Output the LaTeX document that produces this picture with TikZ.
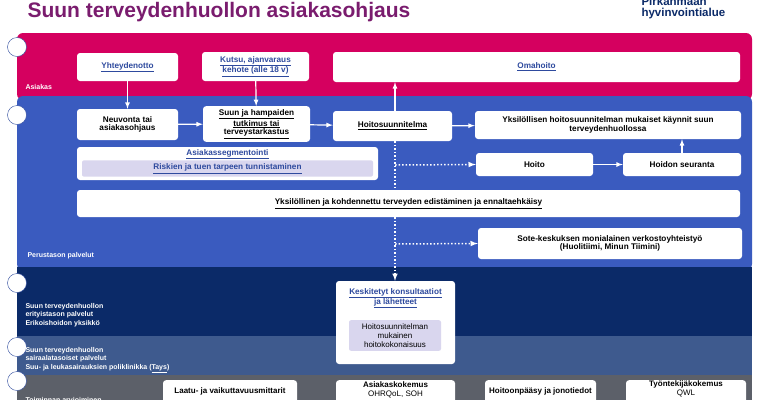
\documentclass[tikz,border=0pt]{standalone}
\usepackage{fontspec}
\setmainfont{Liberation Sans}
\usetikzlibrary{calc}
\definecolor{pinkband}{HTML}{D5005F}
\definecolor{blueband}{HTML}{3A5BBF}
\definecolor{navyband}{HTML}{0B2A68}
\definecolor{midband}{HTML}{3E5A8E}
\definecolor{greyband}{HTML}{5C6069}
\definecolor{linkblue}{HTML}{2E4A9E}
\definecolor{lavender}{HTML}{D9D6EE}
\definecolor{titlepurple}{HTML}{7A1C6E}
\begin{document}
\begin{tikzpicture}[x=1pt,y=-1pt,>=latex,
  box/.style={fill=white,rounded corners=3pt,align=center,font=\fontsize{8.2}{8.6}\selectfont\bfseries},
  lab/.style={anchor=west,align=left,text=white,font=\fontsize{7}{8.2}\selectfont\bfseries},
  icon/.style={circle,draw=linkblue,fill=white,minimum size=19pt,inner sep=0pt},
  arr/.style={->,white,line width=1.2pt},
  dots/.style={white,line width=1.5pt,dotted}]
  \useasboundingbox (0,0) rectangle (760,400);
  % bands
  \fill[pinkband,rounded corners=6pt] (17,33) rectangle (752,100);
  \fill[blueband,rounded corners=6pt] (17,96) rectangle (752,270);
  \fill[navyband] (17,267) rectangle (752,336);
  \fill[midband] (17,336) rectangle (752,375);
  \fill[greyband] (17,375) rectangle (752,400);
  % title
  \node[anchor=west,text=titlepurple,font=\fontsize{21}{22}\selectfont\bfseries] (title) at (24,12) {Suun terveydenhuollon asiakasohjaus};
  \node[anchor=west,align=left,text=navyband,font=\fontsize{11.5}{11.5}\selectfont\bfseries] (logo) at (638,8) {Pirkanmaan\\hyvinvointialue};
  % icons
  \foreach \y/\n in {47/i1,115/i2,283/i3,347/i4,381/i5}
    \node[icon] (\n) at (17,\y) {};
  % band labels
  \node[lab] (asiakas) at (22,87) {Asiakas};
  \node[lab] (perus) at (24,256) {Perustason palvelut};
  \node[lab] (erit) at (22,315) {Suun terveydenhuollon\\erityistason palvelut\\Erikoishoidon yksikkö};
  \node[lab] (sair) at (22,360) {Suun terveydenhuollon\\sairaalatasoiset palvelut\\Suu- ja leukasairauksien poliklinikka (\underline{Tays})};
  \node[lab] (toim) at (22,400) {Toiminnan arvioiminen};
  % boxes
  \node[box,minimum width=101pt,minimum height=28pt,text=linkblue] (yht) at (127.5,67) {\underline{Yhteydenotto}};
  \node[box,minimum width=107pt,minimum height=29pt,text=linkblue] (kutsu) at (255.5,66.5) {\underline{Kutsu, ajanvaraus}\\\underline{kehote (alle 18 v)}};
  \node[box,minimum width=407pt,minimum height=30pt,text=linkblue] (oma) at (536.5,67) {\underline{Omahoito}};
  \node[box,minimum width=101pt,minimum height=31pt] (neuv) at (127.5,124.5) {Neuvonta tai\\asiakasohjaus};
  \node[box,minimum width=107pt,minimum height=32pt] (tutk) at (256.5,124) {\underline{Suun ja hampaiden}\\\underline{tutkimus tai}\\\underline{terveystarkastus}};
  \node[box,minimum width=119pt,minimum height=30pt] (hsuun) at (392.5,126) {\underline{Hoitosuunnitelma}};
  \node[box,minimum width=266pt,minimum height=28pt] (kaynn) at (608,125) {Yksilöllisen hoitosuunnitelman mukaiset käynnit suun\\terveydenhuollossa};
  \node[box,minimum width=301pt,minimum height=33pt] (segm) at (227.5,163.5) {};
  \node[text=linkblue,font=\fontsize{8.2}{8.6}\selectfont\bfseries] (segmt) at (227.5,154) {\underline{Asiakassegmentointi}};
  \node[fill=lavender,rounded corners=2pt,minimum width=291pt,minimum height=15pt,text=linkblue,font=\fontsize{8.2}{8.6}\selectfont\bfseries] (riski) at (227.5,168.5) {\underline{Riskien ja tuen tarpeen tunnistaminen}};
  \node[box,minimum width=117pt,minimum height=23pt] (hoito) at (534.5,164.5) {Hoito};
  \node[box,minimum width=118pt,minimum height=23pt] (seur) at (682,164.5) {Hoidon seuranta};
  \node[box,minimum width=663pt,minimum height=27pt] (edist) at (408.5,203.5) {\underline{Yksilöllinen ja kohdennettu terveyden edistäminen ja ennaltaehkäisy}};
  \node[box,minimum width=264pt,minimum height=31pt] (sote) at (610,243.5) {Sote-keskuksen monialainen verkostoyhteistyö\\(Huolitiimi, Minun Tiimini)};
  \node[box,minimum width=119pt,minimum height=83pt] (kesk) at (395.5,322.5) {};
  \node[text=linkblue,align=center,font=\fontsize{8.2}{10}\selectfont\bfseries] (keskt) at (395.5,298) {\underline{Keskitetyt konsultaatiot}\\\underline{ja lähetteet}};
  \node[fill=lavender,rounded corners=2pt,minimum width=92pt,minimum height=30pt,align=center,font=\fontsize{8}{9}\selectfont] (hkok) at (395,335.5) {Hoitosuunnitelman\\mukainen\\hoitokokonaisuus};
  \node[box,minimum width=134pt,minimum height=30pt,anchor=north] (laatu) at (230,380) {};
  \node[font=\fontsize{8}{8.6}\selectfont\bfseries] (laatut) at (230,391) {Laatu- ja vaikuttavuusmittarit};
  \node[box,minimum width=119pt,minimum height=30pt,anchor=north] (akok) at (395.5,380) {};
  \node[align=center,font=\fontsize{8}{8.6}\selectfont] (akokt) at (395.5,390) {\textbf{Asiakaskokemus}\\OHRQoL, SOH};
  \node[box,minimum width=111pt,minimum height=30pt,anchor=north] (jono) at (540.5,380) {};
  \node[font=\fontsize{8}{8.6}\selectfont\bfseries] (jonot) at (540.5,391) {Hoitoonpääsy ja jonotiedot};
  \node[box,minimum width=120pt,minimum height=30pt,anchor=north] (tyok) at (686,380) {};
  \node[align=center,font=\fontsize{8}{8.6}\selectfont] (tyokt) at (686,389) {\textbf{Työntekijäkokemus}\\QWL};
  % connectors
  \coordinate (d1) at (395,165);
  \coordinate (d2) at (395,244);
  \draw[dots] (hsuun.south -| d1) -- (edist.north -| d1);
  \draw[dots,->] (edist.south -| d1) -- (kesk.north -| d1);
  \draw[dots,->] (d1) -- (hoito.west);
  \draw[dots,->] (d2) -- (sote.west);
  \draw[arr] (yht) -- (neuv);
  \draw[arr] (kutsu) -- (tutk);
  \draw[arr] (neuv) -- (tutk);
  \draw[arr] (tutk) -- (hsuun);
  \draw[arr] (hsuun) -- (kaynn);
  \draw[arr] (hsuun.north -| d1) -- (oma.south -| d1);
  \draw[arr] (hoito) -- (seur);
  \draw[arr] (seur.north) -- (kaynn.south -| seur.north);
\end{tikzpicture}
\end{document}
